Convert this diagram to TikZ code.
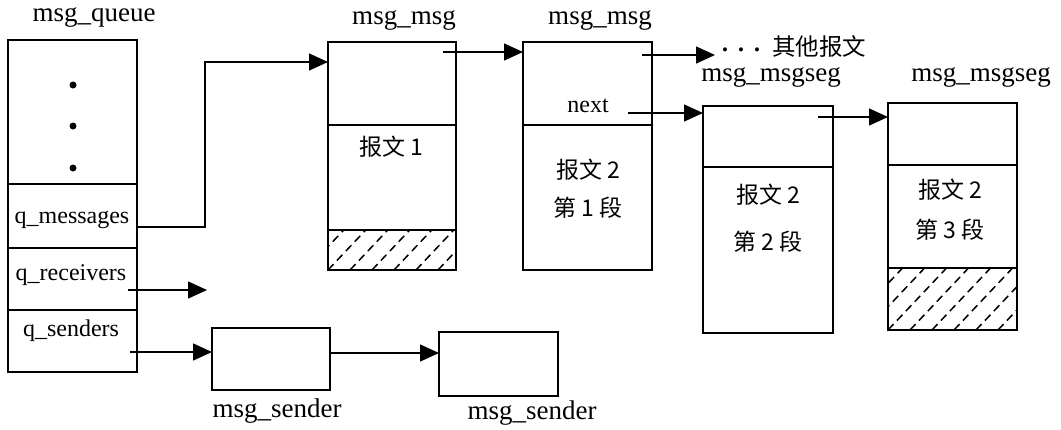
\documentclass[tikz,border=0pt]{standalone}
\usepackage{fontspec}
\setmainfont{Liberation Serif}
\newfontfamily\cjk{Noto Sans CJK SC}
\usetikzlibrary{arrows.meta,calc}
\begin{document}
\begin{tikzpicture}[x=1pt,y=-1pt,
  box/.style={draw,line width=1.5pt,anchor=north west,inner sep=0pt,outer sep=0pt},
  hdr/.style={font=\fontsize{27}{27}\selectfont,inner sep=0pt},
  fld/.style={font=\fontsize{24}{24}\selectfont,inner sep=0pt},
  zh/.style={font=\fontsize{23}{23}\selectfont\cjk,inner sep=0pt},
  arr/.style={line width=1.4pt,-{Triangle[length=19pt,width=17pt]}},
  hatch/.style={line width=1.5pt,dash pattern=on 8pt off 5pt}]
\useasboundingbox (0,0) rectangle (1061,429);

% msg_queue
\node[box,minimum width=129pt,minimum height=144pt] (qtop) at (8,40) {};
\node[box,minimum width=129pt,minimum height=64pt] (qmsg) at (8,184) {};
\node[box,minimum width=129pt,minimum height=62pt] (qrecv) at (8,248) {};
\node[box,minimum width=129pt,minimum height=62pt] (qsend) at (8,310) {};
\fill (73,85) circle (3.5pt);
\fill (73,126) circle (3.5pt);
\fill (73,168) circle (3.5pt);
\node[hdr] (lq) at (94,17) {msg\_queue};
\node[fld] (tqm) at (72,220) {q\_messages};
\node[fld] (tqr) at (71,275) {q\_receivers};
\node[fld] (tqs) at (71,331) {q\_senders};

% msg_msg 1
\node[box,minimum width=128pt,minimum height=83pt] (m1a) at (328,42) {};
\node[box,minimum width=128pt,minimum height=105pt] (m1b) at (328,125) {};
\node[box,minimum width=128pt,minimum height=40pt] (m1c) at (328,230) {};
\node[hdr] (lm1) at (404,20) {msg\_msg};
\node[zh] (tm1) at (391,147) {报文 1};

% msg_msg 2
\node[box,minimum width=129pt,minimum height=83pt] (m2a) at (523,42) {};
\node[box,minimum width=129pt,minimum height=145pt] (m2b) at (523,125) {};
\node[hdr] (lm2) at (600,20) {msg\_msg};
\node[fld] (tnext) at (588,106) {next};
\node[zh] (tm2a) at (588,170) {报文 2};
\node[zh] (tm2b) at (588,208) {第 1 段};

% msg_msgseg 1
\node[box,minimum width=130pt,minimum height=61pt] (s1a) at (703,106) {};
\node[box,minimum width=130pt,minimum height=166pt] (s1b) at (703,167) {};
\node[hdr] (ls1) at (771,77) {msg\_msgseg};
\node[zh] (ts1a) at (768,195) {报文 2};
\node[zh] (ts1b) at (768,242) {第 2 段};

% msg_msgseg 2
\node[box,minimum width=129pt,minimum height=62pt] (s2a) at (888,103) {};
\node[box,minimum width=129pt,minimum height=103pt] (s2b) at (888,165) {};
\node[box,minimum width=129pt,minimum height=62pt] (s2c) at (888,268) {};
\node[hdr] (ls2) at (981,77) {msg\_msgseg};
\node[zh] (ts2a) at (950,190) {报文 2};
\node[zh] (ts2b) at (950,230) {第 3 段};

% msg_sender
\node[box,minimum width=118pt,minimum height=62pt] (snd1) at (212,328) {};
\node[box,minimum width=119pt,minimum height=64pt] (snd2) at (439,332) {};
\node[hdr] (lsnd1) at (277,411) {msg\_sender};
\node[hdr] (lsnd2) at (532,413) {msg\_sender};

% other messages
\node[anchor=west,inner sep=0pt] (oth) at (722,47)
  {{\fontsize{17}{17}\selectfont •\hspace{10pt}•\hspace{10pt}•}\hspace{12pt}{\fontsize{23.5}{23.5}\selectfont\cjk 其他报文}};

% hatching
\begin{scope}
\clip (m1c.north west) rectangle (m1c.south east);
\foreach \i in {-66,-44,...,154} \draw[hatch] ($(m1c.south west)+(\i,0)$) -- ++(66,-70);
\end{scope}
\begin{scope}
\clip (s2c.north west) rectangle (s2c.south east);
\foreach \i in {-88,-66,...,154} \draw[hatch] ($(s2c.south west)+(\i,0)$) -- ++(85,-90);
\end{scope}

% connectors
\coordinate (a1s) at ([yshift=-11pt]qmsg.east);
\coordinate (c1) at (205,62);
\draw[arr] (a1s) -| (c1) -- (m1a.west |- c1);

\coordinate (a2s) at ([xshift=-13pt,yshift=-10pt]m1a.north east);
\draw[arr] (a2s) -- (m2a.west |- a2s);

\coordinate (a3s) at ([xshift=-10pt,yshift=-13pt]m2a.north east);
\coordinate (oe) at (715,55);
\draw[arr] (a3s) -- (oe);

\coordinate (a4s) at ([xshift=-24pt,yshift=12pt]m2a.south east);
\draw[arr] (a4s) -- (s1a.west |- a4s);

\coordinate (a5s) at ([xshift=-15pt,yshift=-11pt]s1a.north east);
\draw[arr] (a5s) -- (s2a.west |- a5s);

\coordinate (a6s) at ([xshift=-9pt,yshift=-11pt]qrecv.east);
\coordinate (re) at (207,290);
\draw[arr] (a6s) -- (re |- a6s);

\coordinate (a7s) at ([xshift=-7pt,yshift=-11pt]qsend.east);
\draw[arr] (a7s) -- (snd1.west |- a7s);

\coordinate (a8s) at ([yshift=6pt]snd1.east);
\draw[arr] (a8s) -- (snd2.west |- a8s);
\end{tikzpicture}
\end{document}
